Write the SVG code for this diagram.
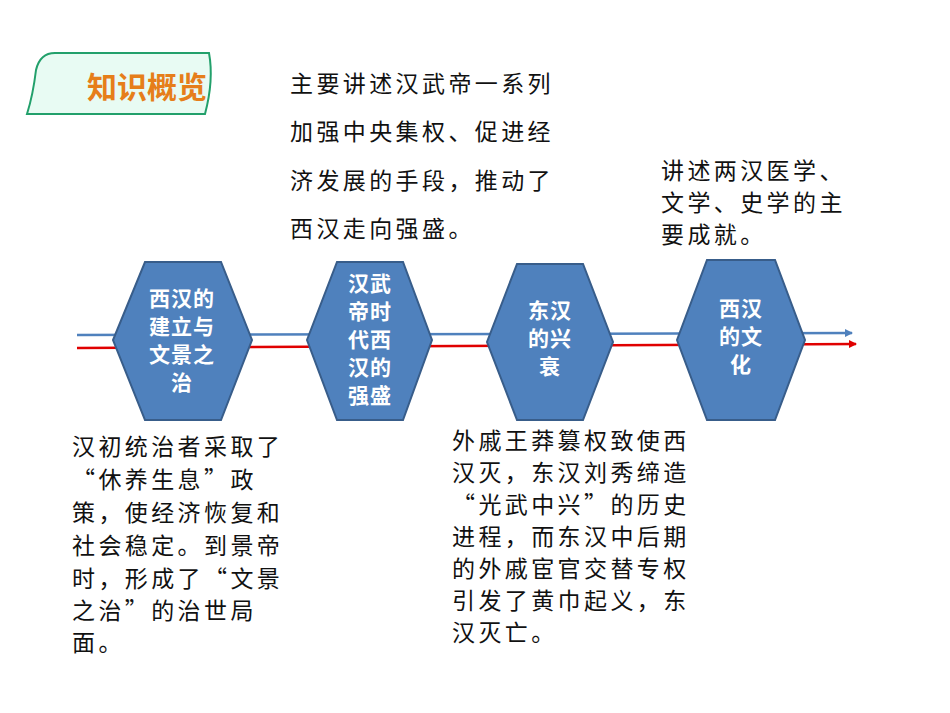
<svg xmlns="http://www.w3.org/2000/svg" width="950" height="713" viewBox="0 0 950 713">
<style>
.hex{fill:#4F81BD;stroke:#385D8A;stroke-width:2}
.ht{font-family:"Noto Sans CJK SC",sans-serif;font-weight:bold;font-size:21px;letter-spacing:1px;fill:#fff;text-anchor:middle}
.t{font-family:"Noto Sans CJK SC",sans-serif;font-size:23px;letter-spacing:3.4px;fill:#111}
</style>
<defs>
<marker id="ab" markerWidth="8" markerHeight="8" refX="7" refY="4" orient="auto" markerUnits="userSpaceOnUse"><path d="M0,0L8,4L0,8z" fill="#4F81BD"/></marker>
<marker id="ar" markerWidth="8" markerHeight="8" refX="7" refY="4" orient="auto" markerUnits="userSpaceOnUse"><path d="M0,0L8,4L0,8z" fill="#E00000"/></marker>
</defs>
<g id="title">
<path d="M36,70 Q40,53 55,53 L209,53 Q214,80 205,114 L27,114 Q33,95 36,70 Z" fill="#E8FBF3" stroke="#22A06B" stroke-width="2"/>
<text x="87" y="98" font-family="Noto Sans CJK SC,sans-serif" font-weight="bold" font-size="30" fill="#E67E1A">知识概览</text>
</g>
<g id="connectors">
<line x1="77" y1="335" x2="852" y2="333" stroke="#4F81BD" stroke-width="2.5" marker-end="url(#ab)"/>
<line x1="77" y1="348" x2="856" y2="344" stroke="#E00000" stroke-width="2.5" marker-end="url(#ar)"/>
</g>
<g id="n1"><polygon class="hex" points="145,262 221,262 252,340 221,420 145,420 113,340"/>
<text class="ht"><tspan x="182" y="306">西汉的</tspan><tspan x="182" y="334">建立与</tspan><tspan x="182" y="362">文景之</tspan><tspan x="182" y="390">治</tspan></text></g>
<g id="n2"><polygon class="hex" points="337,262 403,262 432,340 403,420 337,420 307,340"/>
<text class="ht"><tspan x="370" y="291">汉武</tspan><tspan x="370" y="319">帝时</tspan><tspan x="370" y="347">代西</tspan><tspan x="370" y="375">汉的</tspan><tspan x="370" y="403">强盛</tspan></text></g>
<g id="n3"><polygon class="hex" points="517,264 583,264 613,342 583,420 517,420 487,342"/>
<text class="ht"><tspan x="550" y="318">东汉</tspan><tspan x="550" y="346">的兴</tspan><tspan x="550" y="374">衰</tspan></text></g>
<g id="n4"><polygon class="hex" points="707,260 775,260 805,340 775,420 707,420 677,340"/>
<text class="ht"><tspan x="741" y="316">西汉</tspan><tspan x="741" y="344">的文</tspan><tspan x="741" y="372">化</tspan></text></g>
<g id="texts">
<text class="t"><tspan x="290" y="92">主要讲述汉武帝一系列</tspan><tspan x="290" y="140">加强中央集权、促进经</tspan><tspan x="290" y="189">济发展的手段，推动了</tspan><tspan x="290" y="237">西汉走向强盛。</tspan></text>
<text class="t"><tspan x="661" y="179">讲述两汉医学、</tspan><tspan x="661" y="211">文学、史学的主</tspan><tspan x="661" y="243">要成就。</tspan></text>
<text class="t"><tspan x="72" y="455">汉初统治者采取了</tspan><tspan x="72" y="488">“休养生息”政</tspan><tspan x="72" y="521">策，使经济恢复和</tspan><tspan x="72" y="554">社会稳定。到景帝</tspan><tspan x="72" y="587">时，形成了“文景</tspan><tspan x="72" y="619">之治”的治世局</tspan><tspan x="72" y="651">面。</tspan></text>
<text class="t"><tspan x="452" y="449">外戚王莽篡权致使西</tspan><tspan x="452" y="481">汉灭，东汉刘秀缔造</tspan><tspan x="452" y="513">“光武中兴”的历史</tspan><tspan x="452" y="545">进程，而东汉中后期</tspan><tspan x="452" y="577">的外戚宦官交替专权</tspan><tspan x="452" y="609">引发了黄巾起义，东</tspan><tspan x="452" y="641">汉灭亡。</tspan></text>
</g>
</svg>
